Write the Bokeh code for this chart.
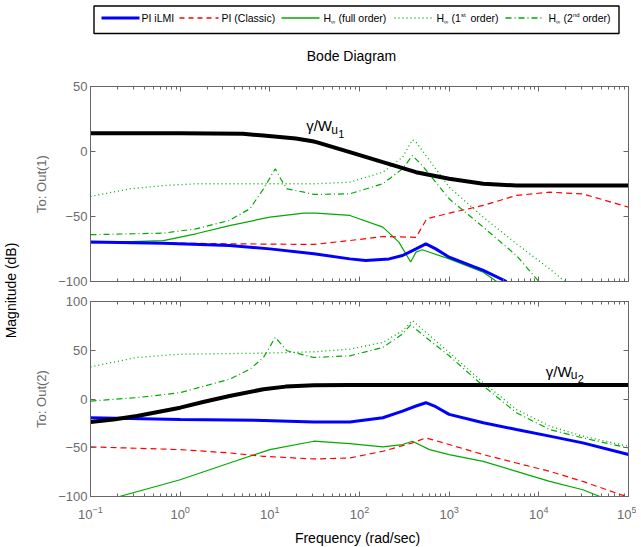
import math
from bokeh.plotting import figure
from bokeh.models import Range1d, LogAxis, LinearAxis, Label, FixedTicker
from bokeh.layouts import row, column
from bokeh.embed import file_html
from bokeh.resources import INLINE
from bokeh.core.properties import value

FONT = "Liberation Sans"
AX = "#666666"
TICKC = "#6b6b6b"
GREEN = "#00aa00"
RED = "#ff0000"
BLUE = "#0000ff"

# ---------------- data: To Out(1) ----------------
black1_w = [0.1, 1, 5, 8.5, 19.5, 30, 33, 78, 182, 427, 1000, 2400, 5600, 1e5]
black1_db = [14, 14, 13.6, 12.3, 10, 7.9, 7.2, -0.5, -8.2, -15.9, -21, -24.8, -26.2, -26.2]

blue1_w = [0.1, 0.65, 3.55, 10, 31, 78, 117, 214, 302, 427, 550, 708, 1000, 2400, 4365]
blue1_db = [-69.7, -70.5, -72.3, -74.9, -78.7, -82.6, -83.8, -82.6, -80, -74.9, -71, -74.9, -81.3, -91.5, -100]

red1_w = [0.1, 3.55, 31, 78, 182, 427, 562, 1000, 2400, 5620, 13200, 30900, 1e5]
red1_db = [-69.7, -71, -71.5, -68.5, -65.4, -66, -51.8, -47.4, -41.5, -33.8, -31.3, -32.6, -42.8]

green1_w = [0.1, 0.65, 1.5, 3.55, 10, 24, 33, 78, 182, 275, 372, 427, 501, 1000, 2400, 3390]
green1_db = [-70.3, -68.5, -63.3, -57, -50.5, -47.4, -47.4, -49.2, -58.2, -69.7, -85, -77.4, -75.6, -82.6, -92.9, -100]

dot1_w = [0.1, 0.275, 0.65, 1.5, 33, 78, 182, 302, 389, 427, 1000, 2400, 5620, 13200, 19500]
dot1_db = [-34.6, -28.7, -26.2, -24.8, -24.8, -23.6, -15.9, -4.4, 9.0, 7.2, -27.4, -50.5, -71, -90.3, -100]

dd1_w = [0.1, 0.65, 1.5, 3.55, 6.0, 8.5, 11.5, 13.2, 15.5, 24, 31, 78, 182, 302, 389, 501, 1000, 2400, 5620, 10000]
dd1_db = [-64, -62.8, -59.5, -53, -44, -28.7, -13.3, -21, -28.7, -31.3, -33, -32.6, -24.8, -13.3, -3.1, -10.8, -36.4, -58.2, -80, -100]

# ---------------- data: To Out(2) ----------------
black2_w = [0.1, 0.18, 0.33, 1, 1.8, 3.55, 8.5, 15, 31, 78, 1e5]
black2_db = [-23.7, -21, -17.5, -8.9, -3.1, 3.1, 10, 12.7, 14.1, 14.4, 14.4]

blue2_w = [0.1, 1, 8.5, 31, 78, 182, 302, 427, 550, 708, 1000, 2400, 5620, 13200, 30900, 1e5]
blue2_db = [-19.2, -21, -22, -23.7, -23.7, -19.2, -12.4, -7.2, -3.8, -7.9, -15.8, -24.4, -31.3, -38.1, -45, -57]

red2_w = [0.1, 1, 3.55, 8.5, 31, 78, 182, 389, 550, 1000, 2400, 5620, 13200, 30900, 83200, 1e5]
red2_db = [-49.1, -51.9, -55.3, -58.8, -61.5, -60.5, -53.6, -45, -39.9, -46.7, -57, -65.6, -74.2, -84.5, -98.3, -100]

green2_w = [0.21, 1, 3.55, 10, 31, 78, 182, 302, 389, 603, 1000, 2400, 5620, 13200, 30900, 47900]
green2_db = [-100, -82.8, -65.6, -51.9, -43.3, -45.7, -49.1, -46.7, -43.3, -51.9, -57, -63.9, -74.2, -84.5, -93.1, -100]

dot2_w = [0.1, 0.33, 1, 8.5, 33, 78, 182, 302, 389, 550, 1000, 2400, 5620, 13200, 30900, 1e5]
dot2_db = [33, 42.6, 46, 47, 48.5, 51.2, 58, 70, 80.4, 68.4, 47.8, 16.8, -10.7, -27.8, -38.1, -48.5]

dd2_w = [0.1, 0.33, 1, 3.55, 6.0, 8.5, 11.5, 15.5, 31, 78, 182, 302, 372, 550, 1000, 2400, 5620, 13200, 30900, 1e5]
dd2_db = [-2.1, 1.4, 6.5, 20.3, 30.6, 42.6, 63.2, 49.5, 42.6, 44.3, 52.9, 66.7, 76, 63.2, 44.3, 13.4, -14.1, -31.3, -39.9, -50.2]

decades = [0.1, 1, 10, 100, 1000, 10000, 100000]
minor_x = [m * d for d in decades[:-1] for m in range(2, 10)]
yticks1 = [-100, -50, 0, 50]
yticks2 = [-100, -50, 0, 50, 100]

legend_labels = ["PI iLMI", "PI (Classic)"]

FW = 538          # frame width
BL, BR = 61, 8    # left / right borders


def hidden_labels(axis):
    axis.major_label_text_font_size = "1px"
    axis.major_label_text_alpha = 0
    axis.major_label_standoff = 0


def style_ticks(axis, minor=True):
    axis.major_tick_in = 5
    axis.major_tick_out = 0
    axis.minor_tick_in = 3
    axis.minor_tick_out = 0
    axis.axis_line_color = AX
    axis.major_tick_line_color = AX
    axis.minor_tick_line_color = AX if minor else None


def make_plot(fh, yr, yticks, ylabel, bt, bb, show_x):
    p = figure(frame_width=FW, frame_height=fh, x_axis_type="log",
               x_range=Range1d(0.1, 1e5), y_range=Range1d(*yr),
               output_backend="svg", toolbar_location=None,
               min_border_left=BL, min_border_right=BR,
               min_border_top=bt, min_border_bottom=bb)
    p.title.visible = False
    p.grid.visible = False
    p.outline_line_color = AX
    p.background_fill_color = "white"
    p.border_fill_color = "white"
    xa = p.xaxis[0]
    xa.ticker = FixedTicker(ticks=decades, minor_ticks=minor_x)
    style_ticks(xa)
    if show_x:
        xa.major_label_text_font = FONT
        xa.major_label_text_font_size = "13px"
        xa.major_label_text_color = TICKC
        xa.major_label_standoff = 9
        xa.axis_label = "Frequency  (rad/sec)"
        xa.axis_label_text_font = FONT
        xa.axis_label_text_font_size = "14px"
        xa.axis_label_text_font_style = "normal"
        xa.axis_label_text_color = "black"
        xa.axis_label_standoff = 8
    else:
        hidden_labels(xa)
    ya = p.yaxis[0]
    ya.ticker = FixedTicker(ticks=yticks, minor_ticks=[])
    style_ticks(ya, minor=False)
    ya.major_label_text_font = FONT
    ya.major_label_text_font_size = "13px"
    ya.major_label_text_color = TICKC
    ya.major_label_standoff = 3
    ya.axis_label = ylabel
    ya.axis_label_text_font = FONT
    ya.axis_label_text_font_size = "13px"
    ya.axis_label_text_font_style = "normal"
    ya.axis_label_text_color = TICKC
    ya.axis_label_standoff = 6
    top = LogAxis(ticker=FixedTicker(ticks=decades, minor_ticks=minor_x))
    style_ticks(top)
    hidden_labels(top)
    p.add_layout(top, "above")
    right = LinearAxis(ticker=FixedTicker(ticks=yticks, minor_ticks=[]))
    style_ticks(right, minor=False)
    hidden_labels(right)
    p.add_layout(right, "right")
    return p


def draw_series(p, series):
    for (w, db), style in series:
        p.line(w, db, **style)


s_black = dict(line_color="black", line_width=4)
s_blue = dict(line_color=BLUE, line_width=3)
s_red = dict(line_color=RED, line_width=1.2, line_dash="6 4")
s_green = dict(line_color=GREEN, line_width=1.2)
s_dot = dict(line_color=GREEN, line_width=1.3, line_dash="1 3")
s_dd = dict(line_color=GREEN, line_width=1.2, line_dash="6 3 1 3")

p1 = make_plot(195, (-100, 50), yticks1, "To: Out(1)", 16, 10, False)
draw_series(p1, [((dot1_w, dot1_db), s_dot), ((dd1_w, dd1_db), s_dd),
                 ((green1_w, green1_db), s_green), ((red1_w, red1_db), s_red),
                 ((blue1_w, blue1_db), s_blue), ((black1_w, black1_db), s_black)])

p2 = make_plot(195, (-100, 100), yticks2, "To: Out(2)", 10, 48, True)
draw_series(p2, [((dot2_w, dot2_db), s_dot), ((dd2_w, dd2_db), s_dd),
                 ((green2_w, green2_db), s_green), ((red2_w, red2_db), s_red),
                 ((blue2_w, blue2_db), s_blue), ((black2_w, black2_db), s_black)])


def gamma_label(p, x, y, sub):
    p.add_layout(Label(x=x, y=y, text="γ/W", text_font=FONT, text_font_size="15px",
                       text_baseline="middle", text_color="black"))
    p.add_layout(Label(x=x, y=y, x_offset=25, y_offset=-4, text="u", text_font=FONT,
                       text_font_size="12px", text_baseline="middle", text_color="black"))
    p.add_layout(Label(x=x, y=y, x_offset=32, y_offset=-8, text=sub, text_font=FONT,
                       text_font_size="11px", text_baseline="middle", text_color="black"))

gamma_label(p1, 25.4, 20, "1")
gamma_label(p2, 11970, 28.6, "2")

# ---------------- header: legend + title (page-pixel coordinates) ----------------
hdr = figure(frame_width=FW, frame_height=70, x_range=Range1d(94, 94 + FW), y_range=Range1d(70, 0),
             output_backend="svg", toolbar_location=None,
             min_border_left=BL, min_border_right=BR, min_border_top=0, min_border_bottom=0,
             x_axis_location=None, y_axis_location=None)
hdr.title.visible = False
hdr.grid.visible = False
hdr.outline_line_color = None
hdr.quad(left=[97.5], right=[622.5], top=[5.5], bottom=[33], fill_color="white",
         line_color="black", line_width=1.4)
ly = 17.5
hdr.line([105, 143], [ly, ly], line_color=BLUE, line_width=3)
hdr.line([183, 222], [ly, ly], line_color=RED, line_width=1.3, line_dash="5 4")
hdr.line([285, 323], [ly, ly], line_color=GREEN, line_width=1.3)
hdr.line([398, 437], [ly, ly], line_color=GREEN, line_width=1.3, line_dash="1 3")
hdr.line([509, 546], [ly, ly], line_color=GREEN, line_width=1.3, line_dash="6 3 1 3")


def htext(x, y, t, size="10.5px", align="left"):
    hdr.text(x=[x], y=[y], text=[t], text_font=value(FONT), text_font_size=size,
             text_baseline="middle", text_align=align, text_color="black")

htext(145, ly, legend_labels[0])
htext(225, ly, legend_labels[1])
for hx, tail, sup in [(327, "(full order)", None), (440, "(1", "st"), (552, "(2", "nd")]:
    htext(hx, ly, "H")
    htext(hx + 7.5, ly + 4, "∞", "6px")
    htext(hx + 15, ly, tail)
    if sup:
        htext(hx + 24.5, ly - 3.5, sup, "6px")
        htext(hx + 34, ly, "order)")

hdr.text(x=[355], y=[55], text=["Bode Diagram"], text_font=value(FONT), text_font_size="14px",
         text_baseline="middle", text_align="center", text_color="black")

# ---------------- shared y label ----------------
lab = figure(width=29, height=544, x_range=Range1d(0, 29), y_range=Range1d(0, 544),
             output_backend="svg", toolbar_location=None,
             min_border_left=0, min_border_right=0, min_border_top=0, min_border_bottom=0,
             x_axis_location=None, y_axis_location=None)
lab.title.visible = False
lab.grid.visible = False
lab.outline_line_color = None
lab.text(x=[10], y=[254], text=["Magnitude (dB)"], angle=math.pi / 2,
         text_font=value(FONT), text_font_size="14px", text_align="center",
         text_baseline="middle", text_color="black")

layout = row(lab, column(hdr, p1, p2))
open("out.html", "w").write(file_html(layout, INLINE))
